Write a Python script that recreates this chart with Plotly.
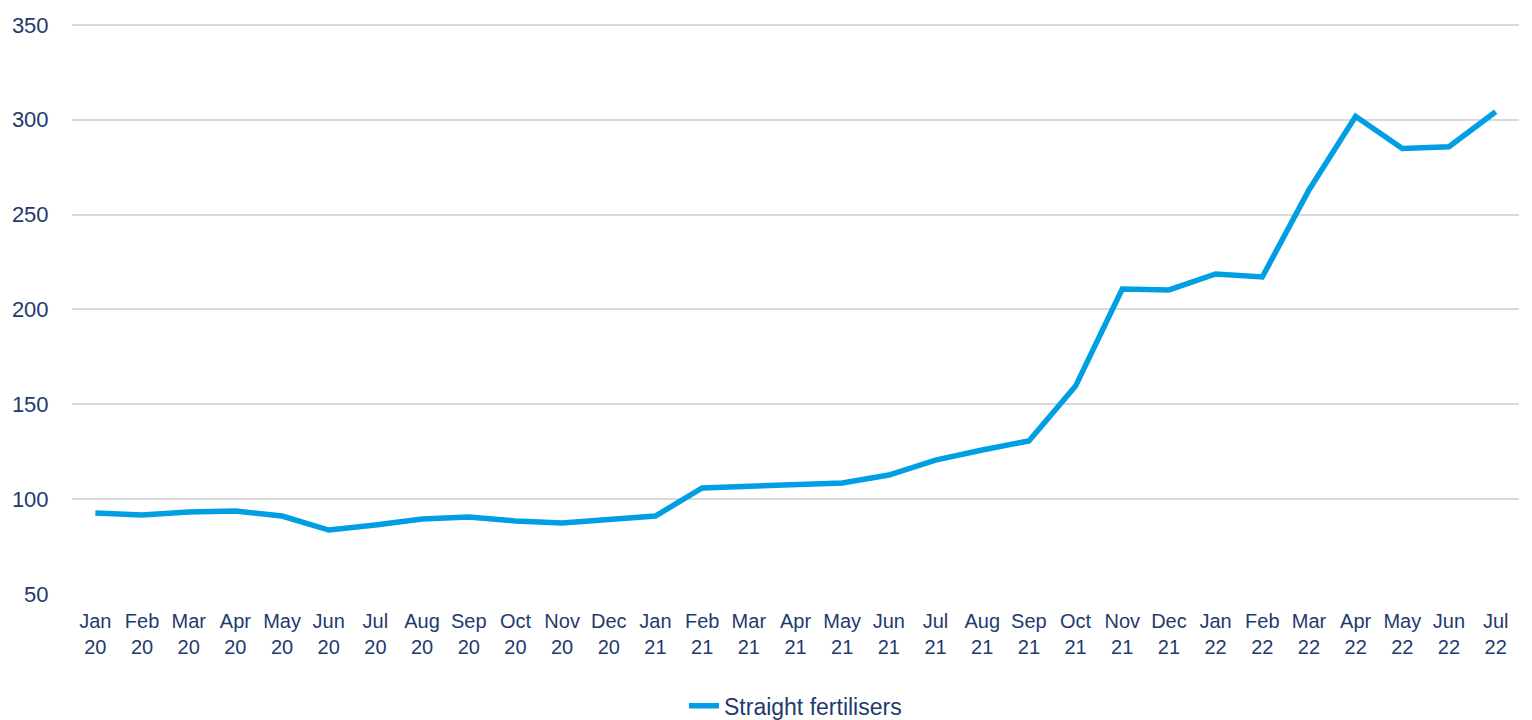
import plotly.graph_objects as go

months = ["Jan", "Feb", "Mar", "Apr", "May", "Jun", "Jul", "Aug", "Sep", "Oct", "Nov", "Dec"]
categories = [f"{m}<br>{y}" for y in ["20", "21"] for m in months] + [f"{m}<br>22" for m in months[:7]]
values = [92.7, 91.6, 93.2, 93.8, 91.1, 83.7, 86.4, 89.5, 90.6, 88.5, 87.4, 89.5,
          91.1, 105.9, 106.9, 107.5, 108.5, 112.7, 120.6, 125.9, 130.7, 159.6, 210.8, 210.3,
          218.7, 217.1, 263.0, 301.8, 284.8, 285.8, 304.2]
series_name = "Straight fertilisers"
y_ticks = [50, 100, 150, 200, 250, 300, 350]

text_color = "#1F3A6E"
line_color = "#009FE3"

fig = go.Figure()
fig.add_trace(go.Scatter(x=categories, y=values, mode="lines", name=series_name,
                         line=dict(color=line_color, width=5.5)))

fig.update_layout(
    width=1532, height=720,
    margin=dict(l=64, r=21, t=15, b=134, autoexpand=False),
    paper_bgcolor="white", plot_bgcolor="white",
    font=dict(family="Liberation Sans, Arial, sans-serif", size=21, color=text_color),
    showlegend=True,
    legend=dict(orientation="h", x=0.5, xanchor="center", y=-0.196, yanchor="middle",
                font=dict(size=23, color=text_color)),
    xaxis=dict(type="category", range=[-0.5, len(categories) - 0.5], showgrid=False,
               showline=False, zeroline=False, tickfont=dict(size=20, color=text_color),
               automargin=False,
               ticks="outside", ticklen=9, tickcolor="rgba(0,0,0,0)"),
    yaxis=dict(range=[50, 351], tickvals=y_ticks, showgrid=True, gridcolor="#D9D9D9",
               gridwidth=1.5, zeroline=False, showline=False, automargin=False,
               tickfont=dict(size=22, color=text_color),
               ticks="outside", ticklen=18, tickcolor="rgba(0,0,0,0)"),
)

fig.write_html("out.html")
